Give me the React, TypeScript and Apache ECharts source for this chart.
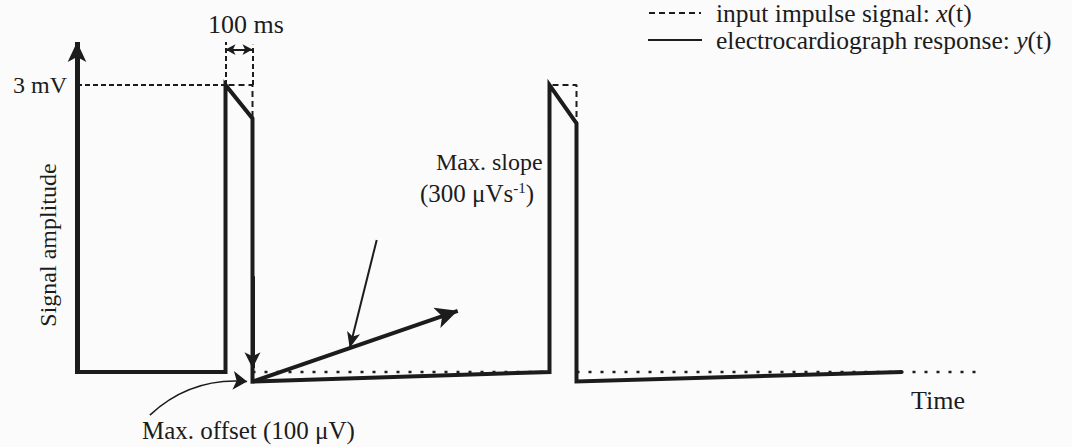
import React, { useEffect, useRef } from "react";
import * as echarts from "echarts";

const FONT = '"Liberation Serif", "Times New Roman", serif';
const INK = "#1c1c1c";
const INPUT_NAME = "input impulse signal: x(t)";
const RESPONSE_NAME = "electrocardiograph response: y(t)";

// Input impulse x(t): rectangular pulses, time in s, amplitude in mV
const pulseStarts = [0.55, 1.75];
const pulseWidth = 0.1;
const pulseAmplitude = 3;
const inputEnd = 3.35;

// Electrocardiograph response y(t): [time s, amplitude mV]
const responsePoints: [number, number][] = [
  [0, 0],
  [0.55, 0],
  [0.55, 3],
  [0.65, 2.65],
  [0.65, -0.1],
  [1.75, 0],
  [1.75, 3],
  [1.85, 2.6],
  [1.85, -0.1],
  [3.05, 0],
];

// Annotation arrows, [time s, amplitude mV]
const yAxisArrow: [number, number][] = [[0, 0], [0, 3.45]];
const slopeArrow: [number, number][] = [[0.65, -0.1], [1.41, 0.64]];
const slopePointer: [number, number][] = [[1.11, 1.38], [1.01, 0.25]];
const offsetPointer: [number, number][] = [[0.27, -0.45], [0.63, -0.1]];
const dropArrow: [number, number][] = [[0.65, 1], [0.65, 0.04]];
const widthMarker: [number, number][] = [[0.55, 3.37], [0.65, 3.37]];
const widthGuides: [number, number][][] = [
  [[0.55, 3], [0.55, 3.45]],
  [[0.65, 3], [0.65, 3.42]],
];
const levelGuide: [number, number][] = [[0, 3], [0.55, 3]];

const yTicks = { min: -0.5, max: 3.5, interval: 0.5, labelled: 3 };

function App() {
  const ref = useRef<HTMLDivElement>(null);

  useEffect(() => {
    if (!ref.current) return;
    const chart = echarts.init(ref.current, undefined, { renderer: "svg" });

    const pulseOutlines = pulseStarts.map((s) => [
      [s, 0],
      [s, pulseAmplitude],
      [s + pulseWidth, pulseAmplitude],
      [s + pulseWidth, 0],
    ]);
    const baselines = pulseStarts.map((s, i) => [
      [s + pulseWidth, 0],
      [i + 1 < pulseStarts.length ? pulseStarts[i + 1] : inputEnd, 0],
    ]);

    const seg = (
      pts: [number, number][],
      endSymbol: string,
      endSize: number[] | number,
      lineStyle: any,
      startSymbol = "none"
    ) => [
      { coord: pts[0], symbol: startSymbol, symbolSize: endSize, lineStyle },
      { coord: pts[1], symbol: endSymbol, symbolSize: endSize },
    ];

    const solid = (w: number) => ({ color: INK, width: w, type: "solid" });
    const dashed = { color: INK, width: 2, type: [5, 3] };

    const series: any[] = [];
    pulseOutlines.forEach((d) =>
      series.push({
        name: INPUT_NAME,
        type: "line",
        data: d,
        symbol: "none",
        silent: true,
        z: 2,
        color: INK,
        lineStyle: { color: INK, width: 2, type: [6, 4] },
      })
    );
    baselines.forEach((d) =>
      series.push({
        name: INPUT_NAME,
        type: "line",
        data: d,
        symbol: "none",
        silent: true,
        z: 2,
        color: INK,
        lineStyle: { color: INK, width: 2.5, type: [3, 9] },
      })
    );
    series.push({
      name: RESPONSE_NAME,
      type: "line",
      data: responsePoints,
      symbol: "none",
      silent: true,
      z: 3,
      color: INK,
      lineStyle: { color: INK, width: 4, join: "miter", cap: "square" },
      markLine: {
        silent: true,
        animation: false,
        label: { show: false },
        emphasis: { disabled: true },
        symbol: ["none", "none"],
        data: [
          seg(yAxisArrow, "arrow", [14, 20], solid(5)),
          seg(slopeArrow, "arrow", [16, 22], solid(4)),
          seg(slopePointer, "arrow", [10, 16], solid(2)),
          seg(dropArrow, "arrow", [12, 16], solid(4)),
          seg(widthMarker, "arrow", [8, 10], solid(2), "arrow"),
          ...widthGuides.map((g) => seg(g, "none", 1, dashed)),
          seg(levelGuide, "none", 1, dashed),
        ],
      },
    });
    // curved pointer to the maximum offset
    series.push({
      type: "lines",
      coordinateSystem: "cartesian2d",
      silent: true,
      z: 4,
      symbol: ["none", "arrow"],
      symbolSize: [9, 14],
      lineStyle: { color: INK, width: 1.6, curveness: 0.22, opacity: 1 },
      data: [{ coords: offsetPointer }],
    });

    const textStyle = { fontFamily: FONT, fontSize: 25, fill: INK };

    chart.setOption({
      animation: false,
      backgroundColor: "#fbfbfc",
      grid: { left: 77, right: 23, top: 37.17, bottom: 27.17 },
      xAxis: {
        type: "value",
        min: 0,
        max: 3.6,
        show: false,
      },
      yAxis: {
        type: "value",
        min: yTicks.min,
        max: yTicks.max,
        interval: yTicks.interval,
        axisLine: { show: false },
        axisTick: { show: false },
        splitLine: { show: false },
        axisLabel: {
          margin: 10,
          fontFamily: FONT,
          fontSize: 24,
          color: INK,
          padding: [0, 0, 12, 0],
          formatter: (v: number) => (Math.abs(v - yTicks.labelled) < 1e-9 ? "3 mV" : ""),
        },
      },
      legend: {
        data: [INPUT_NAME, RESPONSE_NAME],
        orient: "vertical",
        left: 643,
        top: -5,
        itemWidth: 52,
        itemHeight: 20,
        itemGap: 1,
        selectedMode: false,
        itemStyle: { opacity: 0, color: "transparent", borderWidth: 0 },
        formatter: (name: string) =>
          name === INPUT_NAME
            ? "{t|input impulse signal: }{i|x}{t|(t)}"
            : "{t|electrocardiograph response: }{i|y}{t|(t)}",
        textStyle: {
          padding: [0, 0, 0, 10],
          rich: {
            t: { fontFamily: FONT, fontSize: 25.5, color: INK },
            i: { fontFamily: FONT, fontSize: 25.5, color: INK, fontStyle: "italic" },
          },
        },
      },
      graphic: [
        { type: "text", left: 208, top: 11, style: { ...textStyle, fontSize: 26, text: "100 ms" } },
        {
          type: "text",
          x: 48,
          y: 245,
          rotation: Math.PI / 2,
          style: { ...textStyle, fontSize: 24, text: "Signal amplitude", align: "center", verticalAlign: "middle" },
        },
        { type: "text", x: 436, y: 162, style: { ...textStyle, fontSize: 24, text: "Max. slope", verticalAlign: "middle" } },
        {
          type: "text",
          x: 420,
          y: 193,
          style: {
            text: "{t|(300 μVs}{s|-1}{t|)}",
            verticalAlign: "middle",
            rich: {
              t: { fontFamily: FONT, fontSize: 25, fill: INK },
              s: { fontFamily: FONT, fontSize: 15, fill: INK, padding: [0, 0, 10, 0] },
            },
          },
        },
        {
          type: "text",
          x: 142,
          y: 430,
          style: { ...textStyle, text: "Max. offset (100 μV)", verticalAlign: "middle" },
        },
        { type: "text", x: 911, y: 400, style: { ...textStyle, fontSize: 26, text: "Time", verticalAlign: "middle" } },
      ],
      series,
    });

    return () => chart.dispose();
  }, []);

  return (
    <div
      ref={ref}
      style={{ position: "fixed", left: 0, top: 0, width: 1072, height: 447 }}
    />
  );
}

export default App;
